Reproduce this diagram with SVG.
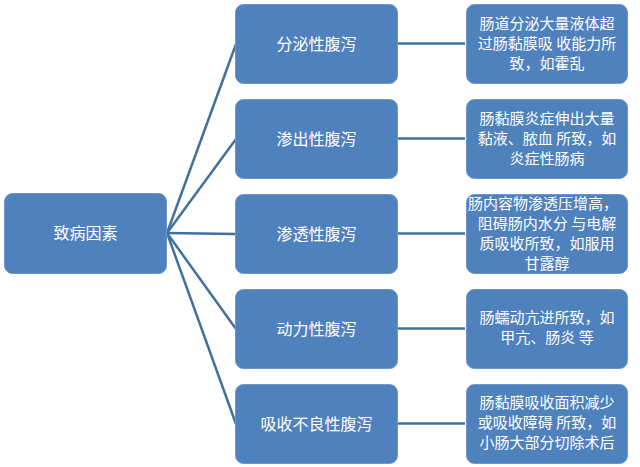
<svg xmlns="http://www.w3.org/2000/svg" width="640" height="467" viewBox="0 0 640 467">
<style>
.box{fill:#4F81BD;stroke:#6A96CC;stroke-width:1}
.t{font-family:"Noto Sans CJK SC","Noto Sans CJK JP",sans-serif;font-size:16px;fill:#FFFFFF;text-anchor:middle}
.s{font-size:15px}
.c{stroke:#41719C;stroke-width:2.5;fill:none}
</style>
<rect width="640" height="467" fill="#FFFFFF"/>
<g id="connectors">
<line class="c" x1="167" y1="233" x2="236" y2="44"/>
<line class="c" x1="167" y1="233" x2="236" y2="139"/>
<line class="c" x1="167" y1="233" x2="236" y2="234"/>
<line class="c" x1="167" y1="233" x2="236" y2="329"/>
<line class="c" x1="167" y1="233" x2="236" y2="424"/>
<line class="c" x1="398" y1="43.5" x2="465" y2="43.5"/>
<line class="c" x1="398" y1="138.5" x2="465" y2="138.5"/>
<line class="c" x1="398" y1="233.5" x2="465" y2="233.5"/>
<line class="c" x1="398" y1="328.5" x2="465" y2="328.5"/>
<line class="c" x1="398" y1="423.5" x2="465" y2="423.5"/>
</g>
<g id="root">
<rect class="box" x="4.5" y="193.5" width="162" height="80" rx="8"/>
<text class="t" x="85.5" y="239">致病因素</text>
</g>
<g id="n1">
<rect class="box" x="235.5" y="4.5" width="162" height="79" rx="8"/>
<text class="t" x="316.5" y="50">分泌性腹泻</text>
</g>
<g id="n2">
<rect class="box" x="235.5" y="99.5" width="162" height="79" rx="8"/>
<text class="t" x="316.5" y="145">渗出性腹泻</text>
</g>
<g id="n3">
<rect class="box" x="235.5" y="194.5" width="162" height="79" rx="8"/>
<text class="t" x="316.5" y="240">渗透性腹泻</text>
</g>
<g id="n4">
<rect class="box" x="235.5" y="289.5" width="162" height="79" rx="8"/>
<text class="t" x="316.5" y="335">动力性腹泻</text>
</g>
<g id="n5">
<rect class="box" x="235.5" y="384.5" width="162" height="79" rx="8"/>
<text class="t" x="316.5" y="430">吸收不良性腹泻</text>
</g>
<g id="d1">
<rect class="box" x="466.5" y="4.5" width="161" height="79" rx="8"/>
<text class="t s"><tspan x="547" y="29">肠道分泌大量液体超</tspan><tspan x="547" y="49">过肠黏膜吸 收能力所</tspan><tspan x="547" y="69">致，如霍乱</tspan></text>
</g>
<g id="d2">
<rect class="box" x="466.5" y="99.5" width="161" height="79" rx="8"/>
<text class="t s"><tspan x="547" y="124">肠黏膜炎症伸出大量</tspan><tspan x="547" y="144">黏液、脓血 所致，如</tspan><tspan x="547" y="164">炎症性肠病</tspan></text>
</g>
<g id="d3">
<rect class="box" x="466.5" y="194.5" width="161" height="79" rx="8"/>
<text class="t s"><tspan x="543" y="209">肠内容物渗透压增高，</tspan><tspan x="547" y="229">阻碍肠内水分 与电解</tspan><tspan x="547" y="249">质吸收所致，如服用</tspan><tspan x="547" y="269">甘露醇</tspan></text>
</g>
<g id="d4">
<rect class="box" x="466.5" y="289.5" width="161" height="79" rx="8"/>
<text class="t s"><tspan x="547" y="323">肠蠕动亢进所致，如</tspan><tspan x="547" y="343">甲亢、肠炎 等</tspan></text>
</g>
<g id="d5">
<rect class="box" x="466.5" y="384.5" width="161" height="79" rx="8"/>
<text class="t s"><tspan x="547" y="408">肠黏膜吸收面积减少</tspan><tspan x="547" y="428">或吸收障碍 所致，如</tspan><tspan x="547" y="448">小肠大部分切除术后</tspan></text>
</g>
</svg>
